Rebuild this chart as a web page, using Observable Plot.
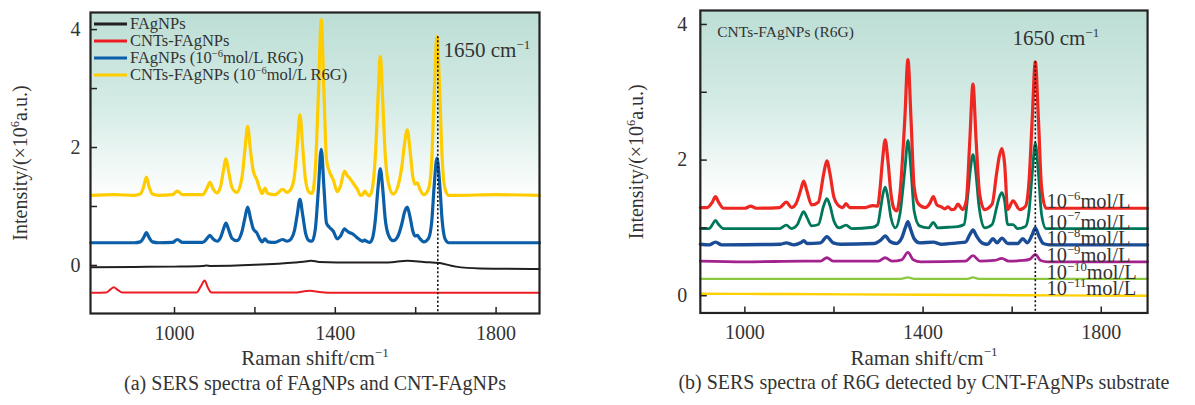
<!DOCTYPE html>
<html><head><meta charset="utf-8">
<script src="https://cdn.jsdelivr.net/npm/d3@7"></script>
<script src="https://cdn.jsdelivr.net/npm/@observablehq/plot@0.6"></script>
<style>
body{margin:0;background:#fff;width:1195px;height:405px;overflow:hidden;font-family:"Liberation Serif",serif;}
#wrap{position:relative;width:1195px;height:405px;}
.panel{position:absolute;top:0;}
#legend{position:absolute;left:94px;top:15px;font-size:16.5px;color:#333;line-height:17px;}
#legend div{display:flex;align-items:center;height:17px;white-space:nowrap;}
#legend svg{margin-right:3px;}
#legend sup{font-size:10.5px;line-height:0;vertical-align:6px;}
</style></head>
<body>
<div id="wrap"><div id="pa" class="panel" style="left:0"></div><div id="pb" class="panel" style="left:600px"></div><div id="legend"></div></div>
<script>
// ---------- Panel (a) data: Raman shift (cm^-1), intensity (x10^6 a.u.) ----------
const seriesA = ["FAgNPs", "CNTs-FAgNPs", "FAgNPs (10<sup>−6</sup>mol/L R6G)", "CNTs-FAgNPs (10<sup>−6</sup>mol/L R6G)"];
const colorsA = ["#231f20", "#ed1c24", "#0b5ea8", "#ffcc00"];
const widthsA = [2, 2, 3.2, 3.2];

const fagnp = [[792,-0.03],[900,-0.025],[1000,-0.02],[1070,-0.01],[1080,0.0],[1090,-0.01],[1200,0.01],[1300,0.05],[1330,0.07],[1340,0.08],[1360,0.06],[1450,0.05],[1530,0.05],[1580,0.08],[1620,0.06],[1660,0.04],[1700,-0.02],[1760,-0.05],[1908,-0.06]];
const cntFagnp = [[795,-0.465],[830,-0.46],[840,-0.41],[849,-0.37],[858,-0.41],[870,-0.46],[1055,-0.46],[1065,-0.36],[1075,-0.255],[1082,-0.36],[1092,-0.46],[1300,-0.46],[1320,-0.44],[1338,-0.43],[1360,-0.45],[1400,-0.465],[1908,-0.465]];
const fagnpR6G = [[792,0.385],[900,0.385],[915,0.40],[923,0.47],[930,0.555],[937,0.47],[945,0.40],[960,0.385],[995,0.39],[1007,0.44],[1020,0.39],[1070,0.39],[1080,0.45],[1088,0.51],[1096,0.45],[1106,0.41],[1115,0.48],[1121,0.6],[1128,0.72],[1135,0.6],[1143,0.46],[1155,0.42],[1168,0.58],[1175,0.8],[1182,0.99],[1189,0.8],[1196,0.62],[1205,0.55],[1212,0.45],[1218,0.40],[1225,0.45],[1232,0.40],[1250,0.39],[1269,0.44],[1280,0.41],[1290,0.45],[1298,0.58],[1305,0.85],[1312,1.12],[1319,0.85],[1326,0.55],[1335,0.42],[1342,0.41],[1350,0.6],[1358,1.3],[1365,1.97],[1372,1.3],[1378,0.72],[1385,0.65],[1395,0.58],[1405,0.45],[1413,0.5],[1423,0.62],[1430,0.58],[1436,0.555],[1442,0.54],[1448,0.51],[1456,0.46],[1462,0.43],[1468,0.41],[1473,0.43],[1478,0.41],[1485,0.39],[1492,0.45],[1500,0.8],[1506,1.3],[1512,1.64],[1518,1.3],[1524,0.8],[1532,0.52],[1544,0.42],[1556,0.5],[1566,0.72],[1572,0.9],[1579,0.99],[1586,0.82],[1593,0.58],[1598,0.5],[1604,0.51],[1610,0.46],[1620,0.40],[1632,0.46],[1640,0.75],[1646,1.35],[1653,1.82],[1660,1.35],[1666,0.75],[1673,0.45],[1682,0.385],[1700,0.385],[1908,0.385]];
const cntFagnpR6G = [[792,1.19],[850,1.2],[900,1.19],[915,1.21],[923,1.33],[930,1.50],[937,1.33],[945,1.21],[960,1.19],[995,1.2],[1007,1.26],[1020,1.2],[1070,1.2],[1080,1.3],[1088,1.41],[1096,1.3],[1106,1.23],[1115,1.35],[1121,1.58],[1128,1.81],[1135,1.58],[1143,1.32],[1155,1.24],[1168,1.5],[1175,1.95],[1182,2.36],[1189,1.95],[1196,1.6],[1205,1.45],[1212,1.3],[1218,1.22],[1225,1.31],[1232,1.22],[1250,1.2],[1269,1.29],[1280,1.24],[1290,1.3],[1298,1.5],[1305,2.0],[1312,2.56],[1319,2.0],[1326,1.45],[1335,1.24],[1342,1.22],[1350,1.6],[1358,2.9],[1365,4.17],[1372,2.9],[1378,1.8],[1385,1.6],[1395,1.45],[1405,1.25],[1413,1.35],[1423,1.60],[1430,1.52],[1436,1.48],[1442,1.42],[1448,1.36],[1456,1.28],[1462,1.19],[1468,1.2],[1473,1.26],[1478,1.22],[1485,1.18],[1492,1.3],[1500,1.9],[1506,2.8],[1512,3.54],[1518,2.8],[1524,1.9],[1532,1.4],[1544,1.21],[1556,1.35],[1566,1.7],[1572,2.05],[1579,2.30],[1586,1.95],[1593,1.5],[1598,1.38],[1604,1.40],[1610,1.3],[1620,1.2],[1632,1.3],[1640,1.8],[1646,2.9],[1653,3.88],[1660,2.9],[1666,1.8],[1673,1.3],[1682,1.19],[1700,1.19],[1800,1.2],[1908,1.19]];
const dataA = [fagnp, cntFagnp, fagnpR6G, cntFagnpR6G];
const drawOrderA = [1, 0, 2, 3];
const xDomainA = [791, 1908], yDomainA = [-0.815, 4.29];
const xTicksA = [1000, 1200, 1400, 1600, 1800], xLabelsA = [1000, 1400, 1800];
const yTicksA = [0, 1, 2, 3, 4], yLabelsA = [0, 2, 4];
const markA = [{x: 1655, top: 3.88}];
const annotA = [{x: 1669, y: 3.65, text: "1650 cm^{−1}"}];

// ---------- Panel (b) data ----------
const concLabels = ["10^{−6}mol/L", "10^{−7}mol/L", "10^{−8}mol/L", "10^{−9}mol/L", "10^{−10}mol/L", "10^{−11}mol/L"];
const colorsB = ["#ee2722", "#00775a", "#1b4d96", "#a3238e", "#8dc63f", "#ffd000"];
const widthsB = [3.2, 2.8, 3.4, 2.8, 2.2, 2.4];
const baselinesB = [1.29, 0.99, 0.75, 0.50, 0.25, 0.015];
const c6 = [[900,1.30],[915,1.3],[927,1.38],[934,1.46],[941,1.38],[952,1.29],[1000,1.29],[1013,1.32],[1025,1.29],[1078,1.3],[1093,1.38],[1105,1.3],[1115,1.36],[1125,1.55],[1132,1.69],[1139,1.55],[1150,1.34],[1165,1.38],[1177,1.8],[1184,1.99],[1191,1.8],[1200,1.45],[1212,1.32],[1220,1.30],[1227,1.36],[1235,1.30],[1270,1.3],[1287,1.33],[1298,1.32],[1303,1.55],[1309,2.0],[1315,2.30],[1321,2.0],[1328,1.5],[1335,1.28],[1341,1.25],[1348,1.5],[1359,2.6],[1366,3.48],[1373,2.6],[1380,1.6],[1390,1.35],[1405,1.3],[1415,1.36],[1423,1.46],[1431,1.34],[1441,1.31],[1449,1.28],[1456,1.31],[1464,1.27],[1471,1.28],[1478,1.35],[1489,1.27],[1497,1.4],[1505,2.3],[1512,3.12],[1519,2.3],[1527,1.5],[1538,1.27],[1555,1.35],[1565,1.8],[1571,2.05],[1577,2.17],[1583,1.95],[1590,1.27],[1602,1.40],[1617,1.27],[1630,1.32],[1638,1.7],[1645,2.6],[1652,3.45],[1659,2.6],[1666,1.6],[1676,1.29],[1904,1.29]];
const c7 = [[900,0.99],[920,0.99],[927,1.05],[934,1.11],[941,1.05],[952,0.99],[1078,0.99],[1093,1.04],[1105,0.99],[1118,1.05],[1125,1.16],[1132,1.24],[1139,1.16],[1150,1.03],[1165,1.05],[1177,1.33],[1184,1.43],[1191,1.33],[1200,1.1],[1212,1.0],[1227,1.04],[1240,0.99],[1287,1.01],[1298,1.05],[1305,1.3],[1310,1.5],[1315,1.60],[1321,1.45],[1328,1.15],[1338,1.0],[1348,1.2],[1359,1.85],[1366,2.29],[1373,1.85],[1380,1.25],[1392,1.03],[1412,1.0],[1423,1.08],[1433,1.0],[1456,1.01],[1478,1.02],[1492,1.05],[1500,1.45],[1506,1.85],[1512,2.08],[1518,1.85],[1525,1.35],[1538,1.0],[1555,1.05],[1565,1.3],[1571,1.45],[1577,1.52],[1583,1.4],[1590,1.05],[1602,1.05],[1612,0.99],[1630,1.02],[1638,1.25],[1645,1.8],[1652,2.25],[1659,1.8],[1666,1.2],[1676,0.99],[1904,0.99]];
const c8 = [[900,0.76],[920,0.75],[934,0.79],[948,0.75],[1080,0.76],[1093,0.78],[1110,0.75],[1125,0.78],[1132,0.81],[1140,0.77],[1170,0.78],[1184,0.87],[1198,0.78],[1215,0.76],[1290,0.77],[1305,0.82],[1315,0.88],[1326,0.80],[1340,0.77],[1352,0.85],[1360,1.0],[1366,1.09],[1372,0.98],[1380,0.84],[1392,0.78],[1423,0.79],[1440,0.76],[1478,0.78],[1495,0.79],[1505,0.9],[1512,0.97],[1520,0.88],[1532,0.78],[1545,0.76],[1557,0.84],[1566,0.78],[1577,0.85],[1590,0.77],[1612,0.77],[1624,0.84],[1634,0.78],[1645,0.9],[1652,1.00],[1660,0.88],[1670,0.77],[1685,0.75],[1904,0.75]];
const c9 = [[900,0.51],[1000,0.50],[1132,0.51],[1170,0.51],[1184,0.56],[1198,0.51],[1300,0.51],[1315,0.56],[1330,0.51],[1352,0.53],[1366,0.64],[1378,0.53],[1395,0.50],[1495,0.51],[1512,0.59],[1528,0.51],[1560,0.52],[1577,0.55],[1592,0.51],[1625,0.52],[1640,0.54],[1652,0.61],[1664,0.52],[1680,0.50],[1904,0.50]];
const c10 = [[900,0.25],[1350,0.25],[1366,0.27],[1380,0.25],[1500,0.25],[1512,0.27],[1525,0.25],[1904,0.25]];
const c11 = [[900,0.03],[1100,0.025],[1400,0.015],[1700,0.005],[1904,0.0]];
const dataB = [c6, c7, c8, c9, c10, c11];
const xDomainB = [900, 1904], yDomainB = [-0.254, 4.206];
const xTicksB = [1000, 1200, 1400, 1600, 1800], xLabelsB = [1000, 1400, 1800];
const yTicksB = [0, 1, 2, 3, 4], yLabelsB = [0, 2, 4];
const labelXB = 1677;
const markB = [{x: 1652, top: 3.45}];
const annotB = [{x: 1601, y: 3.79, text: "1650 cm^{−1}"}];

const yTitle = "Intensity/(×10^{6}a.u.)";
const xTitle = "Raman shift/cm^{−1}";
const captionA = "(a) SERS spectra of FAgNPs and CNT-FAgNPs";
const captionB = "(b) SERS spectra of R6G detected by CNT-FAgNPs substrate";
const titleB = "CNTs-FAgNPs (R6G)";

// ---------- helpers ----------
const INK = "#333";
function supify(svg) {
  svg.querySelectorAll("text").forEach(t => {
    if (!t.textContent.includes("^{")) return;
    const fs = parseFloat(getComputedStyle(t).fontSize);
    const parts = t.textContent.split(/(\^\{[^}]*\})/);
    while (t.firstChild) t.removeChild(t.firstChild);
    let raised = false;
    parts.forEach(p => {
      if (!p) return;
      const ts = document.createElementNS("http://www.w3.org/2000/svg", "tspan");
      if (p.startsWith("^{")) {
        ts.textContent = p.slice(2, -1);
        ts.setAttribute("font-size", fs * 0.62);
        ts.setAttribute("dy", -fs * 0.4);
        raised = true;
      } else {
        ts.textContent = p;
        if (raised) { ts.setAttribute("dy", fs * 0.4); raised = false; }
      }
      t.appendChild(ts);
    });
  });
}
function addGradient(svg, id) {
  d3.select(svg).insert("defs", ":first-child").html(
    `<linearGradient id="${id}" x1="0" y1="0" x2="0" y2="1">
      <stop offset="0" stop-color="#bcded5"/>
      <stop offset="0.3" stop-color="#d4ebe5"/>
      <stop offset="0.62" stop-color="#ffffff"/>
      <stop offset="1" stop-color="#ffffff"/>
    </linearGradient>`);
}

function panel({width, mL, mR, mT, mB, xDomain, yDomain, xTicks, xLabels, yTicks, yLabels, lines, mark, annot, extra, gradId, tickPadY, yTitleDx, caption}) {
  const height = 405;
  const innerH = height - mT - mB, innerW = width - mL - mR;
  return Plot.plot({
    width, height, marginLeft: mL, marginRight: mR, marginTop: mT, marginBottom: mB,
    x: {domain: xDomain}, y: {domain: yDomain},
    style: {fontFamily: "Liberation Serif", color: INK, background: "transparent", overflow: "visible"},
    marks: [
      Plot.frame({fill: `url(#${gradId})`, stroke: "none"}),
      ...lines,
      Plot.ruleX(mark, {x: "x", y1: "top", y2: yDomain[0], stroke: "#111", strokeWidth: 1.6, strokeDasharray: "2,2.2"}),
      Plot.text(annot, {x: "x", y: "y", text: "text", textAnchor: "start", lineAnchor: "middle", fontSize: 21, fill: INK}),
      ...extra,
      Plot.tickX(xTicks, {x: d => d, insetTop: innerH - 6, stroke: "#222", strokeWidth: 1.5}),
      Plot.tickY(yTicks, {y: d => d, insetRight: innerW - 7, stroke: "#222", strokeWidth: 1.5}),
      Plot.axisX({ticks: xLabels, tickSize: 0, tickPadding: 12, fontSize: 20, tickFormat: d => String(d), label: null}),
      Plot.axisY({ticks: yLabels, tickSize: 0, tickPadding: tickPadY, fontSize: 20, tickFormat: d => String(d), label: null}),
      Plot.text([xTitle], {frameAnchor: "bottom", dy: 45, textAnchor: "middle", lineAnchor: "middle", fontSize: 21, fill: INK}),
      Plot.text([caption], {frameAnchor: "bottom", dy: 70, textAnchor: "middle", lineAnchor: "middle", fontSize: 20, fill: INK}),
      Plot.text([yTitle], {frameAnchor: "left", dx: yTitleDx, rotate: -90, textAnchor: "middle", lineAnchor: "middle", fontSize: 20, fill: INK}),
      Plot.frame({stroke: "#222", strokeWidth: 2.2})
    ]
  });
}

// ---------- Panel (a) ----------
const linesA = drawOrderA.map(i => Plot.line(dataA[i], {x: d => d[0], y: d => d[1], stroke: colorsA[i], strokeWidth: widthsA[i], curve: "monotone-x"}));
const plotA = panel({width: 560, mL: 90, mR: 21, mT: 12, mB: 92, xDomain: xDomainA, yDomain: yDomainA,
  xTicks: xTicksA, xLabels: xLabelsA, yTicks: yTicksA, yLabels: yLabelsA, lines: linesA, mark: markA, annot: annotA,
  extra: [], gradId: "gA", tickPadY: 10, yTitleDx: -70, caption: captionA});
document.getElementById("pa").appendChild(plotA);
addGradient(plotA, "gA");
supify(plotA);

// legend (a)
const leg = document.getElementById("legend");
seriesA.forEach((name, i) => {
  const row = document.createElement("div");
  row.innerHTML = `<svg width="33" height="6"><line x1="0" x2="33" y1="3" y2="3" stroke="${colorsA[i]}" stroke-width="3"/></svg><span>${name}</span>`;
  leg.appendChild(row);
});

// ---------- Panel (b) ----------
const labelRows = concLabels.map((t, i) => ({x: labelXB, y: baselinesB[i], text: t}));
const linesB = [5, 4, 3, 2, 1, 0].map(i => Plot.line(dataB[i], {x: d => d[0], y: d => d[1], stroke: colorsB[i], strokeWidth: widthsB[i], curve: "monotone-x"}));
const plotB = panel({width: 596, mL: 100, mR: 48, mT: 10, mB: 92, xDomain: xDomainB, yDomain: yDomainB,
  xTicks: xTicksB, xLabels: xLabelsB, yTicks: yTicksB, yLabels: yLabelsB, lines: linesB, mark: markB, annot: annotB,
  extra: [
    Plot.text(labelRows, {x: "x", y: "y", text: "text", textAnchor: "start", lineAnchor: "bottom", fontSize: 20.5, fill: INK}),
    Plot.text([titleB], {frameAnchor: "top-left", dx: 17, dy: 22, textAnchor: "start", lineAnchor: "middle", fontSize: 15.5, fill: INK})
  ],
  gradId: "gB", tickPadY: 13, yTitleDx: -64, caption: captionB});
document.getElementById("pb").appendChild(plotB);
addGradient(plotB, "gB");
supify(plotB);
</script>
</body></html>
